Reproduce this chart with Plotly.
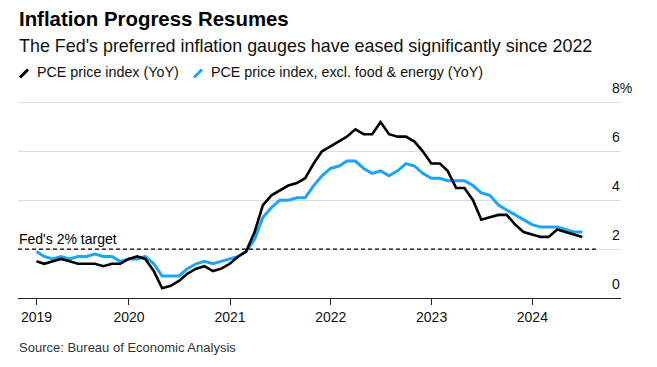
import pandas as pd
import plotly.graph_objects as go

# ---------------- data ----------------
start_month = "2019-01-31"
pce_headline = [
    1.5, 1.4, 1.5, 1.6, 1.5, 1.4, 1.4, 1.4, 1.3, 1.4, 1.4, 1.6,
    1.7, 1.6, 1.1, 0.4, 0.5, 0.7, 1.0, 1.2, 1.3, 1.1, 1.2, 1.4,
    1.7, 1.9, 2.7, 3.8, 4.2, 4.4, 4.6, 4.7, 4.9, 5.5, 6.0, 6.2,
    6.4, 6.6, 6.9, 6.7, 6.7, 7.2, 6.7, 6.6, 6.6, 6.4, 6.0, 5.5,
    5.5, 5.2, 4.5, 4.5, 4.0, 3.2, 3.3, 3.4, 3.4, 3.0, 2.7, 2.6,
    2.5, 2.5, 2.8, 2.7, 2.6, 2.5,
]
pce_core = [
    1.9, 1.7, 1.6, 1.7, 1.6, 1.7, 1.7, 1.8, 1.7, 1.7, 1.5, 1.6,
    1.6, 1.7, 1.4, 0.9, 0.9, 0.9, 1.2, 1.4, 1.5, 1.4, 1.5, 1.6,
    1.7, 1.9, 2.4, 3.3, 3.7, 4.0, 4.0, 4.1, 4.1, 4.6, 5.0, 5.3,
    5.4, 5.6, 5.6, 5.3, 5.1, 5.2, 5.0, 5.2, 5.5, 5.4, 5.1, 4.9,
    4.9, 4.8, 4.8, 4.8, 4.6, 4.3, 4.2, 3.8, 3.6, 3.4, 3.2, 3.0,
    2.9, 2.9, 2.9, 2.8, 2.7, 2.7,
]
series_names = ["PCE price index (YoY)", "PCE price index, excl. food & energy (YoY)"]
fed_target = 2
x_tickvals = ["2019-01-31", "2020-01-01", "2021-01-01", "2022-01-01", "2023-01-01", "2024-01-01"]
x_ticktext = ["2019", "2020", "2021", "2022", "2023", "2024"]
y_tickvals = [0, 2, 4, 6, 8]
y_ticktext = ["0", "2", "4", "6", "8%"]
x_range = ["2018-11-25", "2024-11-17"]
y_range = [0, 8.1]
target_line_end = "2024-08-29"

dates = pd.date_range(start_month, periods=len(pce_headline), freq="ME")

# ---------------- style ----------------
W, H = 657, 367
L, R, T, B = 18, 36, 100, 69
PW, PH = W - L - R, H - T - B
FONT = "Liberation Sans, Arial, Helvetica, sans-serif"
BLACK = "#000000"
BLUE = "#1BA6F5"


def fx(px):
    return (px - L) / PW


def fy(py):
    return (H - B - py) / PH


fig = go.Figure()
fig.add_trace(go.Scatter(x=dates, y=pce_core, mode="lines", name=series_names[1],
                         line=dict(color=BLUE, width=3), showlegend=False))
fig.add_trace(go.Scatter(x=dates, y=pce_headline, mode="lines", name=series_names[0],
                         line=dict(color=BLACK, width=2.6), showlegend=False))

fig.add_shape(type="line", xref="x", yref="y", x0=x_range[0], x1=target_line_end,
              y0=fed_target, y1=fed_target, line=dict(color=BLACK, width=1.4, dash="4px,3px"))

# legend icons (slashes)
fig.add_shape(type="line", xref="paper", yref="paper", x0=fx(20), y0=fy(77.5), x1=fx(28), y1=fy(69.5),
              line=dict(color=BLACK, width=3))
fig.add_shape(type="line", xref="paper", yref="paper", x0=fx(194), y0=fy(77.5), x1=fx(202), y1=fy(69.5),
              line=dict(color=BLUE, width=3))

ann = [
    dict(text="<b>Inflation Progress Resumes</b>", x=fx(17), y=fy(19), font=dict(size=20.4, color="#000")),
    dict(text="The Fed's preferred inflation gauges have eased significantly since 2022", x=fx(17), y=fy(46),
         font=dict(size=17.9, color="#111")),
    dict(text=series_names[0], x=fx(35), y=fy(72), font=dict(size=14.3, color="#111")),
    dict(text=series_names[1], x=fx(209), y=fy(72), font=dict(size=14.3, color="#111")),
    dict(text="Source: Bureau of Economic Analysis", x=fx(17), y=fy(347), font=dict(size=13, color="#333")),
]
for a in ann:
    fig.add_annotation(xref="paper", yref="paper", xanchor="left", yanchor="middle",
                       showarrow=False, font_family=FONT, **{k: v for k, v in a.items()})
fig.add_annotation(xref="paper", yref="y", x=fx(17), y=fed_target, yshift=10, xanchor="left", yanchor="middle",
                   showarrow=False, text="Fed's 2% target", font=dict(family=FONT, size=14, color="#000"))

fig.update_layout(
    width=W, height=H, margin=dict(l=L, r=R, t=T, b=B, pad=0, autoexpand=False),
    paper_bgcolor="white", plot_bgcolor="white",
    font=dict(family=FONT, size=14, color="#000"),
    showlegend=False,
    xaxis=dict(type="date", range=x_range, tickmode="array", tickvals=x_tickvals, ticktext=x_ticktext,
               showgrid=False, zeroline=False, showline=True, linecolor="#222", linewidth=1,
               ticks="outside", ticklen=6, tickcolor="#222", tickwidth=1, automargin=False,
               tickfont=dict(size=14, color="#111")),
    yaxis=dict(range=y_range, side="right", tickmode="array", tickvals=y_tickvals, ticktext=y_ticktext,
               showgrid=True, gridcolor="#dcdcdc", gridwidth=1, zeroline=False, showline=False,
               ticks="", ticklabelposition="outside", ticklabelshift=-14, ticklabelstandoff=-10,
               automargin=False, tickfont=dict(size=14, color="#111")),
)

fig.write_html(
    "out.html",
    config={"displayModeBar": False},
    post_script="document.body.style.margin='0';document.body.style.overflow='hidden';",
)
